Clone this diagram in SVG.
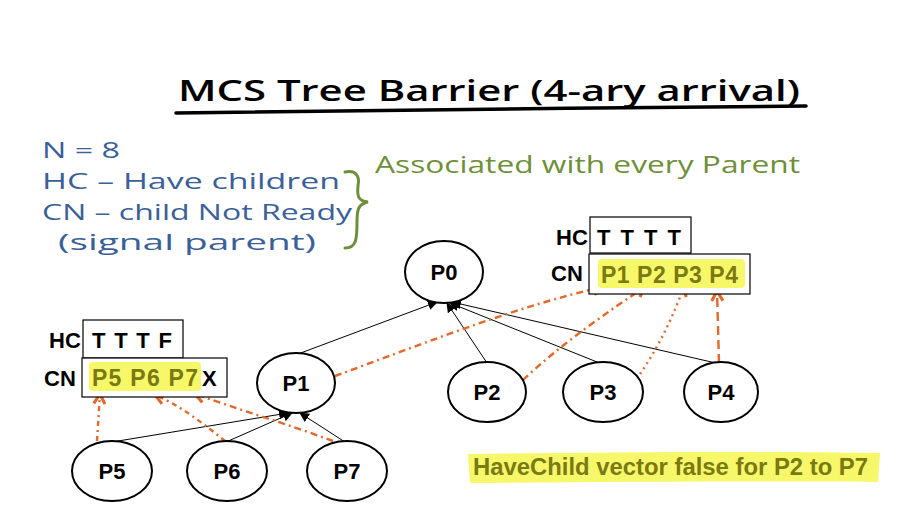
<svg xmlns="http://www.w3.org/2000/svg" width="900" height="516" viewBox="0 0 900 516">
<defs>
<style>
.node ellipse{fill:#fff;stroke:#000;stroke-width:2}
.node text{font-family:"Liberation Sans",Arial,sans-serif;font-weight:bold;font-size:22px;text-anchor:middle;fill:#000}
.lbl{font-family:"Liberation Sans",Arial,sans-serif;font-weight:bold;font-size:22px;fill:#000}
.vec{font-family:"Liberation Sans",Arial,sans-serif;font-weight:bold;font-size:23px;fill:#7a7a12}
.box{fill:#fff;stroke:#000;stroke-width:1.2}
.hl{fill:#f7f76a}
.hand{font-family:"Open Sans","DejaVu Sans",sans-serif;fill:#3b5f99;font-size:21px}
.edge{stroke:#000;stroke-width:1;fill:none;marker-end:url(#ah)}
.sig{stroke:#e2692a;stroke-width:2.4;fill:none;marker-end:url(#oh)}
</style>
<marker id="ah" viewBox="0 0 10 10" refX="9" refY="5" markerWidth="10" markerHeight="10" orient="auto" markerUnits="userSpaceOnUse"><path d="M0,0 L10,5 L0,10 z" fill="#000"/></marker>
<marker id="oh" viewBox="0 0 10 10" refX="8" refY="5" markerWidth="14" markerHeight="14" orient="auto" markerUnits="userSpaceOnUse"><path d="M1,1 L8,5 L1,9" fill="none" stroke="#e2692a" stroke-width="2.2"/></marker>
</defs>
<rect width="900" height="516" fill="#fff"/>

<g id="title">
<text x="178" y="101" font-family="Open Sans, DejaVu Sans, sans-serif" font-weight="600" font-size="29" fill="#000" textLength="622" lengthAdjust="spacingAndGlyphs">MCS  Tree Barrier (4-ary arrival)</text>
<path d="M176,113 C350,110 600,108 806,106" stroke="#000" stroke-width="3.5" fill="none" stroke-linecap="round"/>
</g>

<g id="legend">
<text class="hand" x="42" y="158" textLength="78" lengthAdjust="spacingAndGlyphs">N = 8</text>
<text class="hand" x="42" y="189" textLength="298" lengthAdjust="spacingAndGlyphs">HC – Have children</text>
<text class="hand" x="42" y="220" textLength="310" lengthAdjust="spacingAndGlyphs">CN – child Not Ready</text>
<text class="hand" x="58" y="250" textLength="258" lengthAdjust="spacingAndGlyphs">(signal parent)</text>
<path d="M345,172 C356,170 360,176 358,186 C357,196 358,201 368,202 C358,204 357,210 357,222 C357,240 356,248 345,248" stroke="#6f8f3a" stroke-width="3" fill="none" stroke-linecap="round"/>
<text x="375" y="173" font-family="Open Sans, DejaVu Sans, sans-serif" font-size="24" fill="#6f8f3a" textLength="425" lengthAdjust="spacingAndGlyphs">Associated with every Parent</text>
</g>

<g id="connectors">
<line class="edge" x1="298" y1="354" x2="437" y2="302"/>
<line class="edge" x1="487" y1="363" x2="447" y2="303"/>
<line class="edge" x1="602" y1="364" x2="450" y2="303"/>
<line class="edge" x1="720" y1="364" x2="452" y2="302"/>
<line class="edge" x1="112" y1="442" x2="288" y2="413"/>
<line class="edge" x1="226" y1="442" x2="292" y2="413"/>
<line class="edge" x1="345" y1="442" x2="300" y2="413"/>
<path class="sig" d="M335,376 C420,345 520,305 603,287" stroke-dasharray="7 4 2 4"/>
<path class="sig" d="M523,380 C560,345 610,310 645,287" stroke-dasharray="7 4 2 4"/>
<path class="sig" d="M640,374 C660,345 675,312 684,286" stroke-dasharray="2 4"/>
<path class="sig" d="M719,363 L717,291" stroke-dasharray="9 5"/>
<path class="sig" d="M97,441 L100,394" stroke-dasharray="5 4 2 4"/>
<path class="sig" d="M225,441 C205,425 180,405 155,395" stroke-dasharray="5 4 2 4"/>
<path class="sig" d="M333,441 C290,425 240,410 195,394" stroke-dasharray="7 4 2 4"/>
</g>

<g id="P0" class="node"><ellipse cx="444" cy="272" rx="39" ry="31"/><text x="444" y="280">P0</text></g>
<g id="P1" class="node"><ellipse cx="296" cy="383" rx="39" ry="30"/><text x="296" y="391">P1</text></g>
<g id="P2" class="node"><ellipse cx="487" cy="392" rx="39" ry="30"/><text x="487" y="400">P2</text></g>
<g id="P3" class="node"><ellipse cx="603" cy="392" rx="40" ry="30"/><text x="603" y="400">P3</text></g>
<g id="P4" class="node"><ellipse cx="721" cy="392" rx="37" ry="30"/><text x="721" y="400">P4</text></g>
<g id="P5" class="node"><ellipse cx="112" cy="471" rx="40" ry="30"/><text x="112" y="479">P5</text></g>
<g id="P6" class="node"><ellipse cx="227" cy="471" rx="40" ry="30"/><text x="227" y="479">P6</text></g>
<g id="P7" class="node"><ellipse cx="347" cy="471" rx="40" ry="30"/><text x="347" y="479">P7</text></g>

<g id="P0-vectors">
<rect class="box" x="590" y="217" width="101" height="36"/>
<text class="lbl" x="556" y="245">HC</text>
<text class="lbl" x="597" y="245" textLength="84" lengthAdjust="spacing">T T T T</text>
<rect class="box" x="589" y="254" width="161" height="40"/>
<text class="lbl" x="551" y="281">CN</text>
<rect class="hl" x="598" y="259" width="147" height="29" rx="4"/>
<text class="vec" x="601" y="283" textLength="137" lengthAdjust="spacing">P1 P2 P3 P4</text>
</g>

<g id="P1-vectors">
<rect class="box" x="83" y="320" width="100" height="38"/>
<text class="lbl" x="49" y="348">HC</text>
<text class="lbl" x="92" y="348" textLength="80" lengthAdjust="spacing">T T T F</text>
<rect class="box" x="82" y="358" width="145" height="39"/>
<text class="lbl" x="44" y="386">CN</text>
<rect class="hl" x="89" y="362" width="112" height="29" rx="4"/>
<text class="vec" x="92" y="386" textLength="106" lengthAdjust="spacing">P5 P6 P7</text>
<text class="lbl" x="202" y="386">X</text>
</g>

<g id="note">
<path d="M468,454 C600,452 760,451 880,453 L878,482 C760,481 600,482 470,483 Z" class="hl"/>
<text x="473" y="475" font-family="Liberation Sans, Arial, sans-serif" font-weight="bold" font-size="23" fill="#7a7a12" textLength="395" lengthAdjust="spacingAndGlyphs">HaveChild vector false for P2 to P7</text>
</g>
</svg>
